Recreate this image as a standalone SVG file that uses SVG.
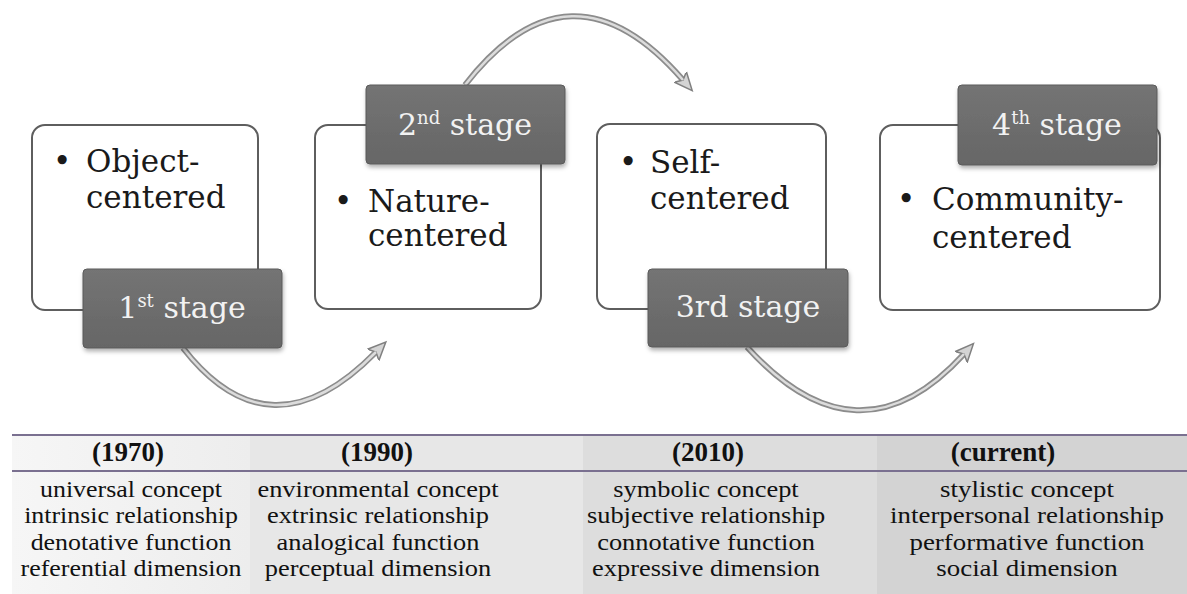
<svg xmlns="http://www.w3.org/2000/svg" width="1187" height="594" viewBox="0 0 1187 594">
<style>
.box{fill:#fff;stroke:#5e5e5e;stroke-width:2}
.lbl{fill:url(#lg);stroke:#5a5a5a;stroke-width:1}
.hl{stroke:url(#hlg);stroke-width:3}
.bt{font-family:"DejaVu Serif","Liberation Serif",serif;font-size:31px;fill:#1a1a1a}
.lt{font-family:"DejaVu Serif","Liberation Serif",serif;font-size:30px;fill:#f2f2f2;text-anchor:middle}
.th{font-family:"Liberation Serif",serif;font-size:27px;font-weight:bold;fill:#111;text-anchor:middle}
.td{font-family:"Liberation Serif",serif;font-size:24px;fill:#111;text-anchor:middle}
.ao{fill:none;stroke:#8c8c8c;stroke-width:6}
.ai{fill:none;stroke:#dcdcdc;stroke-width:2.5}
.tl{stroke:#7a7090;stroke-width:2}
</style>
<defs>
<linearGradient id="lg" x1="0" y1="0" x2="0" y2="1">
<stop offset="0" stop-color="#747474"/>
<stop offset="1" stop-color="#666"/>
</linearGradient>
<linearGradient id="hlg" x1="0" y1="0" x2="0" y2="1">
<stop offset="0" stop-color="#9a9a9a"/>
<stop offset="0.5" stop-color="#d0d0d0"/>
<stop offset="1" stop-color="#9a9a9a"/>
</linearGradient>
<linearGradient id="c1" x1="0" y1="0" x2="1" y2="0">
<stop offset="0" stop-color="#f6f6f6"/>
<stop offset="1" stop-color="#ededed"/>
</linearGradient>
<filter id="sh" x="-10%" y="-10%" width="125%" height="130%">
<feDropShadow dx="1" dy="3" stdDeviation="2" flood-color="#000" flood-opacity="0.3"/>
</filter>
<marker id="ah" markerWidth="24" markerHeight="24" refX="4" refY="10" orient="auto" markerUnits="userSpaceOnUse">
<path d="M0,2 L18,10 L0,18 L4,10 Z" fill="#d4d4d4" stroke="#808080" stroke-width="1.5"/>
</marker>
</defs>
<rect width="1187" height="594" fill="#fff"/>

<g id="connectors">
<path class="ao" d="M183,348 Q270,460 376,352" marker-end="url(#ah)"/>
<path class="ai" d="M183,348 Q270,460 376,352"/>
<path class="ao" d="M465,85 Q570,-50 683,80" marker-end="url(#ah)"/>
<path class="ai" d="M465,85 Q570,-50 683,80"/>
<path class="ao" d="M747,347 Q858,470 964,354" marker-end="url(#ah)"/>
<path class="ai" d="M747,347 Q858,470 964,354"/>
</g>

<g id="stage1">
<rect class="box" x="32" y="125" width="226" height="185" rx="13"/>
<text class="bt" x="53" y="172">•</text>
<text class="bt" x="86" y="172">Object-</text>
<text class="bt" x="86" y="208">centered</text>
<g filter="url(#sh)"><rect class="lbl" x="83" y="269" width="199" height="79" rx="4"/></g>
<line class="hl" x1="92" y1="274" x2="92" y2="343"/>
<line class="hl" x1="276" y1="274" x2="276" y2="343"/>
<text class="lt" x="182" y="318">1<tspan font-size="18" dy="-11">st</tspan><tspan dy="11"> stage</tspan></text>
</g>

<g id="stage2">
<rect class="box" x="315" y="125" width="226" height="184" rx="13"/>
<text class="bt" x="334" y="212">•</text>
<text class="bt" x="368" y="212">Nature-</text>
<text class="bt" x="368" y="246">centered</text>
<g filter="url(#sh)"><rect class="lbl" x="366" y="85" width="199" height="79" rx="4"/></g>
<line class="hl" x1="375" y1="90" x2="375" y2="159"/>
<line class="hl" x1="559" y1="90" x2="559" y2="159"/>
<text class="lt" x="465" y="135">2<tspan font-size="18" dy="-11">nd</tspan><tspan dy="11"> stage</tspan></text>
</g>

<g id="stage3">
<rect class="box" x="597" y="124" width="229" height="185" rx="13"/>
<text class="bt" x="619" y="173">•</text>
<text class="bt" x="650" y="173">Self-</text>
<text class="bt" x="650" y="209">centered</text>
<g filter="url(#sh)"><rect class="lbl" x="648" y="269" width="200" height="78" rx="4"/></g>
<line class="hl" x1="657" y1="274" x2="657" y2="342"/>
<line class="hl" x1="842" y1="274" x2="842" y2="342"/>
<text class="lt" x="748" y="317">3rd stage</text>
</g>

<g id="stage4">
<rect class="box" x="880" y="125" width="280" height="185" rx="13"/>
<text class="bt" x="897" y="210">•</text>
<text class="bt" x="932" y="210">Community-</text>
<text class="bt" x="932" y="248">centered</text>
<g filter="url(#sh)"><rect class="lbl" x="958" y="85" width="199" height="80" rx="4"/></g>
<line class="hl" x1="967" y1="90" x2="967" y2="160"/>
<line class="hl" x1="1151" y1="90" x2="1151" y2="160"/>
<text class="lt" x="1057" y="135">4<tspan font-size="18" dy="-11">th</tspan><tspan dy="11"> stage</tspan></text>
</g>

<g id="table">
<rect x="12" y="435" width="238" height="159" fill="url(#c1)"/>
<rect x="250" y="435" width="333" height="159" fill="#e7e7e7"/>
<rect x="583" y="435" width="294" height="159" fill="#dddddd"/>
<rect x="877" y="435" width="310" height="159" fill="#d3d3d3"/>
<line class="tl" x1="12" y1="435" x2="1187" y2="435"/>
<line class="tl" x1="12" y1="471" x2="1187" y2="471"/>
<text class="th" x="128" y="461">(1970)</text>
<text class="th" x="377" y="461">(1990)</text>
<text class="th" x="708" y="461">(2010)</text>
<text class="th" x="1003" y="461">(current)</text>
<g transform="translate(131,0) scale(1.08,1)">
<text class="td" x="0" y="497">universal concept</text>
<text class="td" x="0" y="523.5">intrinsic relationship</text>
<text class="td" x="0" y="550">denotative function</text>
<text class="td" x="0" y="576.5">referential dimension</text>
</g>
<g transform="translate(378,0) scale(1.1,1)">
<text class="td" x="0" y="497">environmental concept</text>
<text class="td" x="0" y="523.5">extrinsic relationship</text>
<text class="td" x="0" y="550">analogical function</text>
<text class="td" x="0" y="576.5">perceptual dimension</text>
</g>
<g transform="translate(706,0) scale(1.1,1)">
<text class="td" x="0" y="497">symbolic concept</text>
<text class="td" x="0" y="523.5">subjective relationship</text>
<text class="td" x="0" y="550">connotative function</text>
<text class="td" x="0" y="576.5">expressive dimension</text>
</g>
<g transform="translate(1027,0) scale(1.12,1)">
<text class="td" x="0" y="497">stylistic concept</text>
<text class="td" x="0" y="523.5">interpersonal relationship</text>
<text class="td" x="0" y="550">performative function</text>
<text class="td" x="0" y="576.5">social dimension</text>
</g>
</g>
</svg>
